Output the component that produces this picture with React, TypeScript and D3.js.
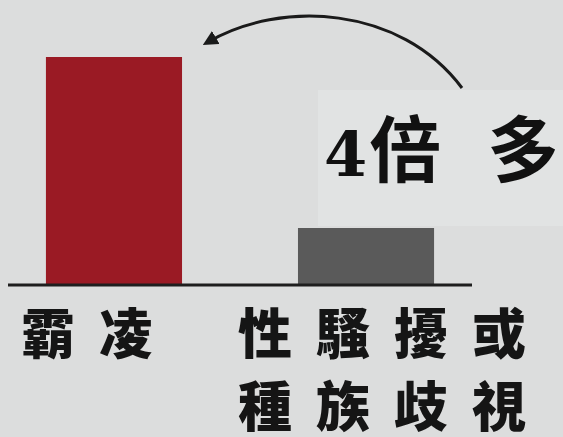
import React from "react";
import * as d3 from "d3";

const categories = ["霸凌", "性騷擾或種族歧視"];
const labelLines = [["霸凌"], ["性騷擾或", "種族歧視"]];
const values = [4, 1];
const barColors = ["#9a1a24", "#5a5a5a"];
const annotation = ["4", "倍", "多"];

const W = 563;
const H = 437;

export default function App() {
  const x = d3.scaleBand<string>().domain(categories).range([-70, 550]).paddingInner(0.46).paddingOuter(0.46);
  const y = d3.scaleLinear().domain([0, 4]).range([285, 57]);

  const arrow = d3.path();
  arrow.moveTo(462, 88);
  arrow.bezierCurveTo(400, 5, 280, 0, 208, 42);

  const cjk = "Noto Sans CJK TC, Noto Sans CJK SC, sans-serif";
  const serif = "DejaVu Serif, Liberation Serif, serif";

  return (
    <svg width={W} height={H} style={{ position: "absolute", left: 0, top: 0, display: "block" }}>
      <defs>
        <marker id="ah" viewBox="0 0 10 10" refX="6" refY="5" markerWidth="5" markerHeight="5" orient="auto">
          <path d="M0,0 L10,5 L0,10 z" fill="#1a1a1a" />
        </marker>
      </defs>
      <rect x={0} y={0} width={W} height={H} fill="#dcdddd" />
      <rect x={318} y={90} width={245} height={136} fill="#e1e3e3" />
      {categories.map((c, i) => (
        <rect
          key={c}
          x={x(c)}
          y={y(values[i])}
          width={x.bandwidth()}
          height={y(0) - y(values[i])}
          fill={barColors[i]}
        />
      ))}
      <line x1={8} x2={472} y1={y(0)} y2={y(0)} stroke="#1e1e1e" strokeWidth={3} />
      {categories.map((c, i) =>
        labelLines[i].map((ln, j) => (
          <text
            key={c + j}
            x={i === 0 ? 21 : 238}
            y={354 + j * 73}
            fontFamily={cjk}
            fontWeight="900"
            fontSize={54}
            letterSpacing={24}
            fill="#151515"
          >
            {ln}
          </text>
        ))
      )}
      <path d={arrow.toString()} fill="none" stroke="#1a1a1a" strokeWidth={3} markerEnd="url(#ah)" />
      <text x={324} y={176} fontWeight="bold" fontSize={72} fill="#111">
        <tspan fontFamily={serif} fontSize={62}>{annotation[0]}</tspan>
        <tspan fontFamily={cjk} dx={2}>{annotation[1]}</tspan>
        <tspan fontFamily={cjk} dx={46}>{annotation[2]}</tspan>
      </text>
    </svg>
  );
}
